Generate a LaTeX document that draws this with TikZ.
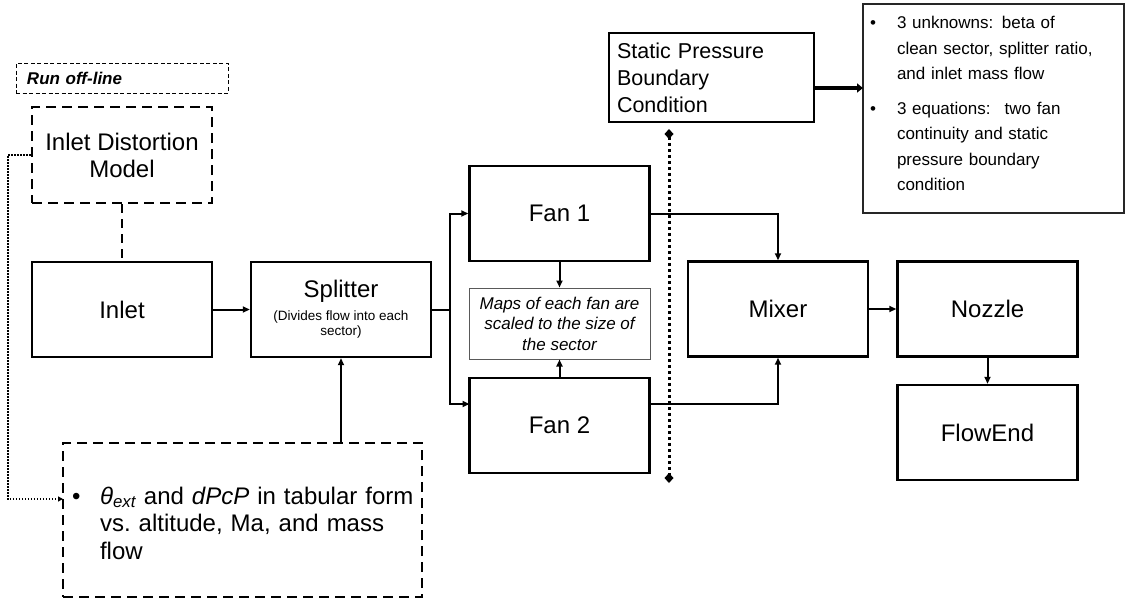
\documentclass[tikz,border=0pt]{standalone}
\usepackage{fontspec}
\setmainfont{Liberation Sans}
\usetikzlibrary{arrows.meta}
\newcommand{\fsz}[2]{\fontsize{#1}{#2}\selectfont}
\begin{document}
\begin{tikzpicture}[x=1pt,y=-1pt,
  blk/.style={draw, line width=2.4pt, minimum width=180pt, minimum height=95pt, inner sep=0pt, align=center, font=\fsz{24}{27}},
  dblk/.style={blk, dash pattern=on 10pt off 6pt},
  runbox/.style={draw, line width=0.9pt, dash pattern=on 4pt off 2.5pt, minimum height=30pt, text width=190pt, inner xsep=11pt, inner ysep=0pt, align=left, font=\fsz{17}{19}\bfseries\itshape},
  mapbox/.style={draw=black!65, line width=1pt, minimum width=181pt, minimum height=71pt, inner sep=0pt, align=center, font=\fsz{17}{20.5}\itshape},
  statbox/.style={draw, line width=1.4pt, minimum height=89pt, text width=189pt, inner xsep=8pt, inner ysep=0pt, align=left, font=\fsz{21.5}{27}},
  notebox/.style={draw=black!85, line width=1.1pt, minimum height=209pt, text width=247pt, inner xsep=7pt, inner ysep=0pt, align=left, font=\fsz{17}{25.5}},
  tabbox/.style={draw, line width=2.4pt, dash pattern=on 10pt off 6pt, minimum height=154pt, text width=341pt, inner xsep=9pt, inner ysep=0pt, align=left, font=\fsz{24}{27.5}},
  conn/.style={line width=2pt, -{Triangle[length=7pt,width=6pt]}},
  plain/.style={line width=2pt}
]
\useasboundingbox (0,0) rectangle (1125,603);

\node[runbox] (run) at (122,78) {Run off-line};
\node[dblk, minimum height=96pt] (dist) at (122,155) {Inlet Distortion\\Model};
\node[blk] (inlet) at (122,309.5) {Inlet};
\node[blk] (split) at (341,309.5) {{\fsz{24}{27}Splitter}\\[-4pt]{\fsz{13.5}{15}(Divides flow into each}\\[-12pt]{\fsz{13.5}{15}sector)}};
\node[blk] (fan1) at (559.5,213.5) {Fan 1};
\node[blk] (fan2) at (559.5,425.5) {Fan 2};
\node[mapbox] (maps) at (559.5,323.5) {Maps of each fan are\\scaled to the size of\\the sector};
\node[blk] (mixer) at (778,309) {Mixer};
\node[blk] (nozzle) at (987.5,309) {Nozzle};
\node[blk] (flowend) at (987.5,432.5) {FlowEnd};
\node[statbox] (static) at (711.5,77.5) {Static Pressure\\Boundary\\Condition};
\node[notebox] (note) at (993.5,108.5) {\raisebox{4pt}[\height][\depth]{%
  \begin{tabular}{@{}p{27pt}@{}l@{}}
  \textbullet & 3 unknowns: beta of\\
   & clean sector, splitter  ratio,\\
   & and inlet mass flow\\[9pt]
  \textbullet & 3 equations:~ two fan\\
   & continuity and static\\
   & pressure boundary\\
   & condition
  \end{tabular}}};
\node[tabbox] (tab) at (242.5,520) {\raisebox{-6pt}[\height][\depth]{%
  \begin{tabular}{@{}p{28pt}@{}l@{}}
  \textbullet & {\itshape θ\textsubscript{ext}} and {\itshape dPcP} in tabular form\\
   & vs.\ altitude, Ma, and mass\\
   & flow
  \end{tabular}}};

% coordinates for connector ends
\coordinate (jn) at (450,309.5);
\coordinate (fan2w) at (469.5,404);
\coordinate (fan2e) at (649.5,404);
\coordinate (statr) at (814,88);
\coordinate (notel) at (863,88);
\coordinate (tabw) at (63,499);
\coordinate (dtop) at (669,129);
\coordinate (dbot) at (669,483);

\draw[line width=2.2pt, dash pattern=on 9pt off 6pt] (dist.south) -- (inlet.north);
\draw[conn] (inlet.east) -- (split.west);
\draw[plain] (split.east) -- (jn);
\draw[conn] (jn) |- (fan1.west);
\draw[conn] (jn) |- (fan2w);
\draw[conn] (fan1.south) -- (maps.north);
\draw[conn] (fan2.north) -- (maps.south);
\draw[conn] (fan1.east) -| (mixer.north);
\draw[conn] (fan2e) -| (mixer.south);
\draw[conn] (mixer.east) -- (nozzle.west);
\draw[conn] (nozzle.south) -- (flowend.north);
\draw[conn] (split.south |- tab.north) -- (split.south);
\draw[line width=4pt, -{Triangle[length=6pt,width=9pt]}] (statr) -- (notel);
\draw[line width=1.6pt, dash pattern=on 1.6pt off 1.4pt, -{Triangle[length=5pt,width=5pt]}] (dist.west) -- ++(-23,0) |- (tabw);
\draw[line width=3pt, dash pattern=on 3pt off 3pt, {Diamond[length=10pt,width=9pt]}-{Diamond[length=10pt,width=9pt]}] (dtop) -- (dbot);
\end{tikzpicture}
\end{document}
